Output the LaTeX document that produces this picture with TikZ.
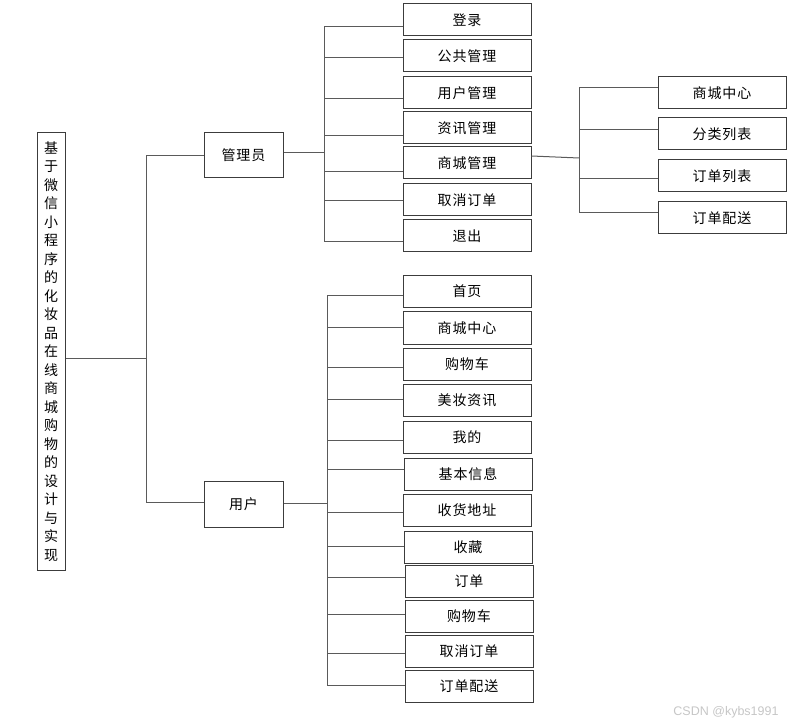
\documentclass[tikz,border=0pt]{standalone}
\usepackage{fontspec}
\usepackage{tikz}
\newfontfamily\cjk[LetterSpace=6]{Noto Sans CJK SC}
\newfontfamily\wmfont{Liberation Sans}
\definecolor{linegray}{RGB}{90,90,90}
\definecolor{boxgray}{RGB}{60,60,60}

\begin{document}
\begin{tikzpicture}[x=1pt,y=-1pt,
    itembox/.style={draw=boxgray,line width=1pt,minimum width=128pt,minimum height=32pt,
      inner sep=0pt,font=\cjk\fontsize{14}{16}\selectfont},
    link/.style={draw=linegray,line width=1pt}]
      \useasboundingbox (0,0) rectangle (795,727);
      % root (vertical title)
      \node[itembox,minimum width=28pt,minimum height=437pt,align=center,
        font=\cjk\fontsize{14}{18.5}\selectfont] (root) at (51,351.5)
        {基\\于\\微\\信\\小\\程\\序\\的\\化\\妆\\品\\在\\线\\商\\城\\购\\物\\的\\设\\计\\与\\实\\现};
      % roles
      \node[itembox,minimum width=79pt,minimum height=45pt] (admin) at (243.5,155.5){管理员};
      \node[itembox,minimum width=79pt,minimum height=46pt] (user) at (243.5,504){用户};
      % level 1 bus
      \coordinate (rbus) at (146,358);
      \draw[link] (root.east |- rbus) -- (rbus);
      \draw[link] (146,156) -- (146,502);
      \draw[link] (146,156) -- (admin.west |- 0,156);
      \draw[link] (146,502) -- (user.west |- 0,502);
      % admin items: name/text/centre y/line y
      \coordinate (abus) at (324,153);
      \draw[link] (admin.east |- abus) -- (abus);
      \draw[link] (324,27) -- (324,242);
      \foreach \name/\txt/\cy/\ly in {a1/登录/20/27, a2/公共管理/56/58, a3/用户管理/93/99,
          a4/资讯管理/128/136, a5/商城管理/163/172, a6/取消订单/200/201, a7/退出/236/242} {
        \node[itembox] (\name) at (467,\cy){\txt};
        \draw[link] (abus |- 0,\ly) -- (\name.west |- 0,\ly);
      }
      % mall items
      \coordinate (mbus) at (579,158);
      \draw[link] (a5.east |- 0,156) -- (mbus);
      \draw[link] (579,88) -- (579,213);
      \foreach \name/\txt/\cy/\ly in {m1/商城中心/93/88, m2/分类列表/134/130,
          m3/订单列表/176/179, m4/订单配送/218/213} {
        \node[itembox] (\name) at (722,\cy){\txt};
        \draw[link] (mbus |- 0,\ly) -- (\name.west |- 0,\ly);
      }
      % user items: name/text/centre x/centre y/line y
      \coordinate (ubus) at (327,503);
      \draw[link] (user.east |- ubus) -- (ubus);
      \draw[link] (327,296) -- (327,685);
      \foreach \name/\txt/\cx/\cy/\ly in {u1/首页/467/291.5/296, u2/商城中心/467/328/327,
          u3/购物车/467/364/367, u4/美妆资讯/467/400.5/399, u5/我的/467/437/440,
          u6/基本信息/468/474/469, u7/收货地址/467/510/512, u8/收藏/468/547/546,
          u9/订单/469/581.5/577, u10/购物车/469/616/614, u11/取消订单/469/651/653,
          u12/订单配送/469/686/685} {
        \node[itembox] (\name) at (\cx,\cy){\txt};
        \draw[link] (ubus |- 0,\ly) -- (\name.west |- 0,\ly);
      }
      % watermark
      \node[text=gray!45,font=\wmfont\fontsize{12.5}{14}\selectfont] (mark) at (726,712){CSDN @kybs1991};
    \end{tikzpicture}
\end{document}
